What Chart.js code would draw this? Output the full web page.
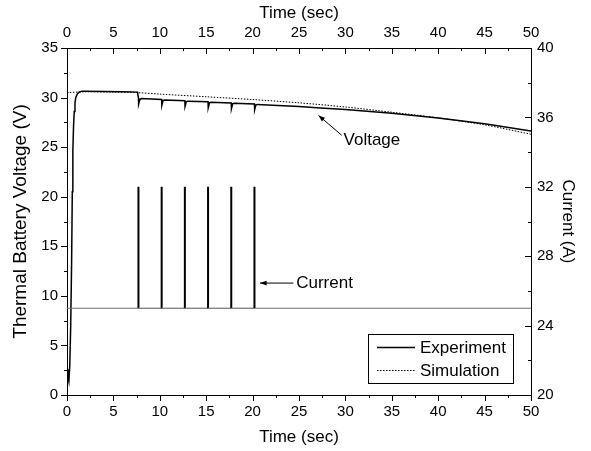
<!DOCTYPE html>
<html>
<head>
<meta charset="utf-8">
<script src="https://cdn.jsdelivr.net/npm/chart.js@4"></script>
<style>
  body { margin: 0; background: #fff; }
  canvas { display: block; }
</style>
</head>
<body>
<canvas id="myChart" width="591" height="451"></canvas>
<script>
const FONT = 'Arial, "Liberation Sans", sans-serif';

// experiment voltage (time in sec, volts)
const expTime = [0, 0.1, 0.2, 0.3, 0.4, 0.5, 0.57, 0.63, 0.7, 0.78, 0.86, 0.95, 1.1, 1.3, 1.6, 2, 4, 6, 7.6,
  7.7, 7.72, 7.85, 8.0,
  10.2, 10.22, 10.35, 10.5,
  12.7, 12.72, 12.85, 13.0,
  15.2, 15.22, 15.35, 15.5,
  17.7, 17.72, 17.85, 18.0,
  20.2, 20.22, 20.35, 20.5,
  25, 27.3, 30, 35, 40, 45, 50];
const expVolt = [2.6, 1.8, 1.35, 3.0, 7.0, 13.6, 20.5, 24.5, 27.0, 28.6, 29.5, 30.0, 30.35, 30.55, 30.63, 30.65, 30.62, 30.58, 30.55,
  29.95, 29.35, 29.8, 29.9,
  29.8, 29.22, 29.7, 29.76,
  29.68, 29.1, 29.58, 29.64,
  29.57, 28.98, 29.47, 29.53,
  29.46, 28.88, 29.36, 29.42,
  29.35, 28.78, 29.25, 29.31,
  29.1, 28.95, 28.8, 28.42, 27.95, 27.35, 26.62];

// simulation voltage
const simTime = [0, 2, 5, 7.5, 10, 15, 20, 25, 30, 35, 40, 45, 50];
const simVolt = [30.5, 30.58, 30.55, 30.5, 30.35, 30.08, 29.8, 29.47, 29.05, 28.52, 27.95, 27.25, 26.3];

// current (A)
const curTime = [0, 7.7, 7.7, 7.7, 10.2, 10.2, 10.2, 12.7, 12.7, 12.7, 15.2, 15.2, 15.2,
  17.7, 17.7, 17.7, 20.2, 20.2, 20.2, 50];
const curAmp = [25, 25, 32, 25, 25, 32, 25, 25, 32, 25, 25, 32, 25, 25, 32, 25, 25, 32, 25, 25];

const timeTicks = [0, 50, 5];
const voltTicks = [0, 35, 5];
const ampTicks = [20, 40, 4];

function pairs(xs, ys) {
    return xs.map((x, i) => ({x: x, y: ys[i]}));
}

// small ticks drawn by hand so they can point the same way as the original
function drawMarks(c, scale, step, horizontal, base, dir) {
    const min = scale.min, max = scale.max;
    const half = step / 2;
    for (let v = min; v <= max + 1e-6; v += half) {
        const major = Math.abs((v - min) / step - Math.round((v - min) / step)) < 1e-6;
        const len = major ? 6 : 3;
        const p = Math.round(scale.getPixelForValue(v)) + 0.5;
        c.beginPath();
        if (horizontal) {
            c.moveTo(p, base);
            c.lineTo(p, base + dir * len);
        } else {
            c.moveTo(base, p);
            c.lineTo(base + dir * len, p);
        }
        c.stroke();
    }
}

function arrow(c, x1, y1, x2, y2) {
    const a = Math.atan2(y2 - y1, x2 - x1);
    c.beginPath();
    c.moveTo(x1, y1);
    c.lineTo(x2, y2);
    c.stroke();
    c.beginPath();
    c.moveTo(x2, y2);
    c.lineTo(x2 - 7 * Math.cos(a - 0.35), y2 - 7 * Math.sin(a - 0.35));
    c.lineTo(x2 - 7 * Math.cos(a + 0.35), y2 - 7 * Math.sin(a + 0.35));
    c.closePath();
    c.fill();
}

const extras = {
    id: 'extras',
    afterDraw(chart) {
        const c = chart.ctx;
        const s = chart.scales;
        c.save();
        c.strokeStyle = '#000';
        c.fillStyle = '#000';
        c.lineWidth = 1;
        drawMarks(c, s.x, timeTicks[2], true, s.x.top, 1);
        drawMarks(c, s.x2, timeTicks[2], true, s.x2.bottom, 1);
        drawMarks(c, s.y, voltTicks[2], false, s.y.right, -1);
        drawMarks(c, s.y2, ampTicks[2], false, s.y2.left, -1);

        // annotations
        c.font = '17px ' + FONT;
        c.textBaseline = 'middle';
        c.textAlign = 'left';
        const vx = s.x.getPixelForValue(27.1), vy = s.y.getPixelForValue(28.2);
        const vx2 = s.x.getPixelForValue(29.6), vy2 = s.y.getPixelForValue(26.2);
        arrow(c, vx2, vy2, vx, vy);
        c.fillText('Voltage', s.x.getPixelForValue(29.8), s.y.getPixelForValue(25.7));
        const cy = s.y2.getPixelForValue(26.45);
        arrow(c, s.x.getPixelForValue(24.4), cy, s.x.getPixelForValue(20.8), cy);
        c.fillText('Current', s.x.getPixelForValue(24.7), cy);

        // legend
        c.strokeRect(368.5, 334.5, 145, 49);
        c.lineWidth = 1.5;
        c.beginPath();
        c.moveTo(377, 347.5);
        c.lineTo(415, 347.5);
        c.stroke();
        c.lineWidth = 1;
        c.setLineDash([1.5, 1.5]);
        c.beginPath();
        c.moveTo(377, 370.5);
        c.lineTo(415, 370.5);
        c.stroke();
        c.setLineDash([]);
        c.fillText('Experiment', 420, 348);
        c.fillText('Simulation', 420, 371);
        c.restore();
    }
};

function axis(pos, range, title, pad, tickPad, size, titleSize) {
    return {
        type: 'linear',
        position: pos,
        min: range[0],
        max: range[1],
        grid: {display: false, drawTicks: false},
        border: {display: true, color: '#000', width: 1},
        ticks: {stepSize: range[2], padding: tickPad, color: '#000', autoSkip: false, maxRotation: 0,
            font: {family: FONT, size: 15}},
        title: {display: true, text: title, color: '#000', padding: pad,
            font: {family: FONT, size: titleSize}},
        afterFit: s => {
            if (pos === 'left' || pos === 'right') s.width = size; else s.height = size;
        }
    };
}

function graphData() {
    const ctx = document.getElementById('myChart');
    const myChart = new Chart(ctx, {
        type: 'line',
        data: {
            datasets: [{
                label: 'Current',
                data: pairs(curTime, curAmp),
                xAxisID: 'x',
                yAxisID: 'y2',
                borderColor: '#000',
                borderWidth: 2,
                pointRadius: 0,
                tension: 0,
                segment: {
                    borderColor: c => c.p0.parsed.y === c.p1.parsed.y ? '#707070' : '#000',
                    borderWidth: c => c.p0.parsed.y === c.p1.parsed.y ? 1.2 : 2
                }
            }, {
                label: 'Simulation',
                data: pairs(simTime, simVolt),
                xAxisID: 'x',
                yAxisID: 'y',
                borderColor: '#000',
                borderWidth: 1,
                borderDash: [1.5, 1.5],
                pointRadius: 0,
                tension: 0.3
            }, {
                label: 'Experiment',
                data: pairs(expTime, expVolt),
                xAxisID: 'x',
                yAxisID: 'y',
                borderColor: '#000',
                borderWidth: 1.5,
                pointRadius: 0,
                tension: 0
            }]
        },
        options: {
            responsive: false,
            animation: false,
            devicePixelRatio: 1,
            layout: {padding: 0},
            plugins: {legend: {display: false}, tooltip: {enabled: false}},
            scales: {
                x: axis('bottom', timeTicks, 'Time (sec)', {top: 0, bottom: 3}, 8, 56, 17),
                x2: axis('top', timeTicks, 'Time (sec)', {top: 3, bottom: 0}, 6, 48, 17),
                y: axis('left', voltTicks, 'Thermal Battery Voltage (V)', {top: 9, bottom: 0}, 9, 67, 19),
                y2: axis('right', ampTicks, 'Current (A)', {top: 13, bottom: 0}, 6, 60, 17)
            }
        },
        plugins: [extras]
    });
}

graphData();
</script>
</body>
</html>
